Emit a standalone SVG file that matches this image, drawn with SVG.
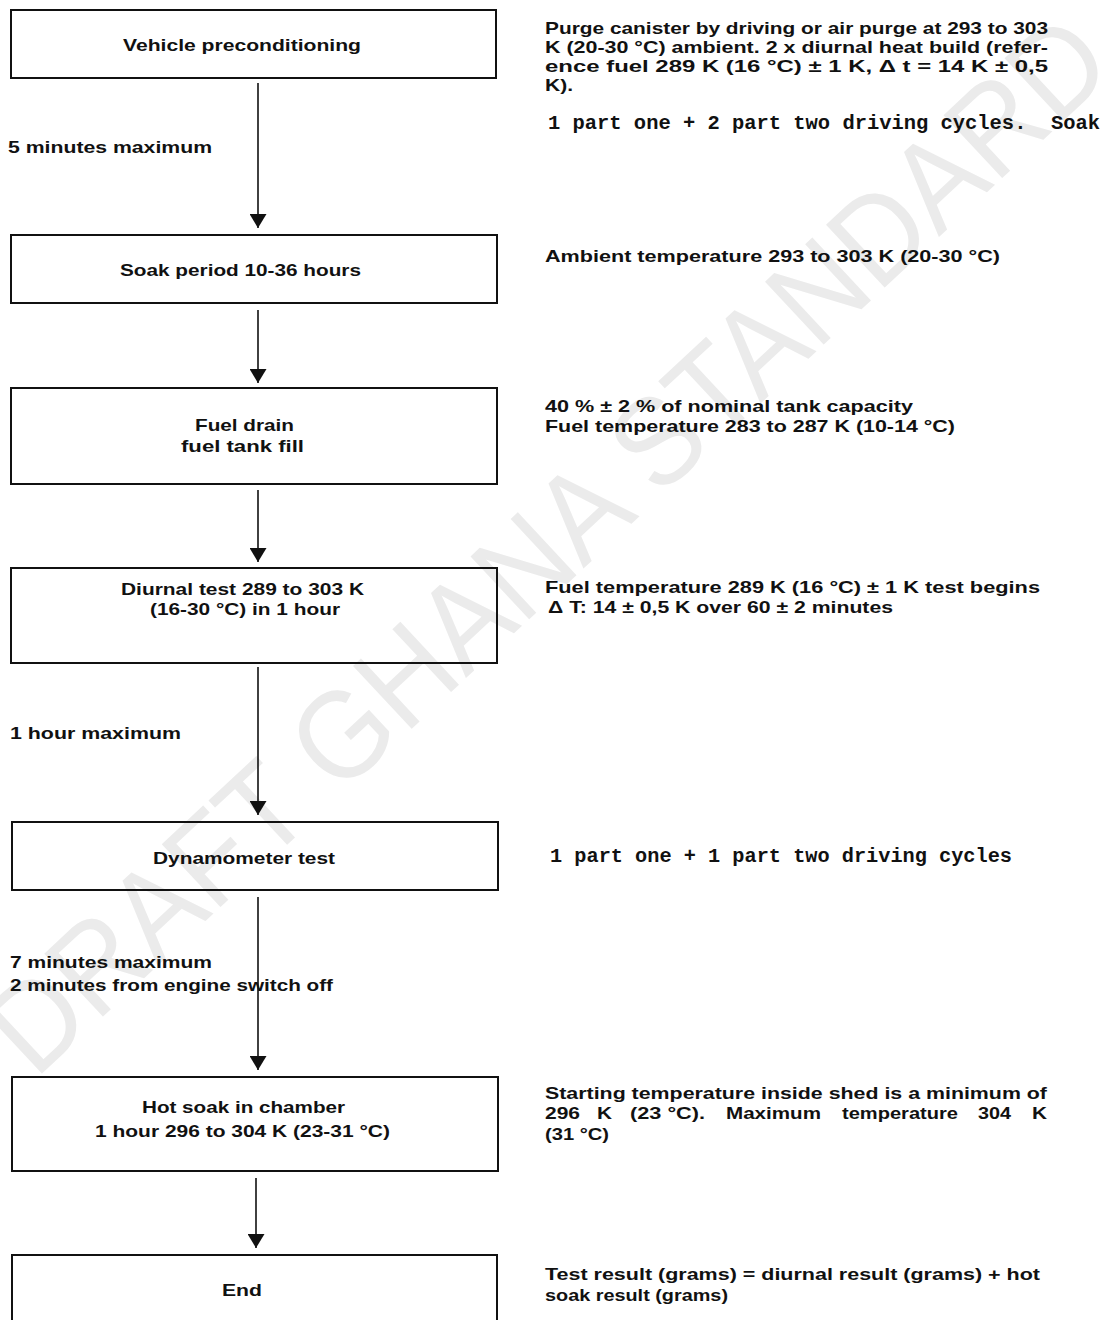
<svg xmlns="http://www.w3.org/2000/svg" width="1107" height="1320" viewBox="0 0 1107 1320">
<style>
.box{fill:none;stroke:#111;stroke-width:2}
.t{font-family:"Liberation Sans","Arial",sans-serif;font-weight:bold;font-size:16.5px;fill:#111}
.m{font-family:"Liberation Mono","DejaVu Sans Mono",monospace;font-weight:bold;font-size:20px;fill:#111}
.conn{stroke:#111;stroke-width:1.6;fill:none;marker-end:url(#ah)}
.wm{font-family:"Liberation Sans",sans-serif;font-size:125px;fill:#ebebeb}
</style>
<defs>
<marker id="ah" markerUnits="userSpaceOnUse" viewBox="0 -8.5 14 17" refX="14" refY="0" markerWidth="14" markerHeight="17" orient="auto">
<path d="M0,-8.5 L14,0 L0,8.5 Z" fill="#111"/>
</marker>
</defs>
<rect width="1107" height="1320" fill="#fff"/>
<text class="wm" transform="translate(35,1080) rotate(-43)" textLength="1480" lengthAdjust="spacingAndGlyphs">DRAFT GHANA STANDARD</text>

<g id="connectors">
<line class="conn" x1="258" y1="83" x2="258" y2="228"/>
<line class="conn" x1="258" y1="310" x2="258" y2="383"/>
<line class="conn" x1="258" y1="490" x2="258" y2="562"/>
<line class="conn" x1="258" y1="667" x2="258" y2="815"/>
<line class="conn" x1="258" y1="897" x2="258" y2="1070"/>
<line class="conn" x1="256" y1="1178" x2="256" y2="1248"/>
<text class="t" x="8" y="153" textLength="204" lengthAdjust="spacingAndGlyphs">5 minutes maximum</text>
<text class="t" x="10" y="739" textLength="171" lengthAdjust="spacingAndGlyphs">1 hour maximum</text>
<text class="t" x="10" y="968" textLength="202" lengthAdjust="spacingAndGlyphs">7 minutes maximum</text>
<text class="t" x="10" y="991" textLength="323" lengthAdjust="spacingAndGlyphs">2 minutes from engine switch off</text>
</g>

<g id="n1">
<rect class="box" x="11" y="10" width="485" height="68"/>
<text class="t" x="123" y="51" textLength="238" lengthAdjust="spacingAndGlyphs">Vehicle preconditioning</text>
</g>
<g id="n2">
<rect class="box" x="11" y="235" width="486" height="68"/>
<text class="t" x="120" y="276" textLength="241" lengthAdjust="spacingAndGlyphs">Soak period 10-36 hours</text>
</g>
<g id="n3">
<rect class="box" x="11" y="388" width="486" height="96"/>
<text class="t" x="195" y="431" textLength="99" lengthAdjust="spacingAndGlyphs">Fuel drain</text>
<text class="t" x="181" y="452" textLength="123" lengthAdjust="spacingAndGlyphs">fuel tank fill</text>
</g>
<g id="n4">
<rect class="box" x="11" y="568" width="486" height="95"/>
<text class="t" x="121" y="595" textLength="243" lengthAdjust="spacingAndGlyphs">Diurnal test 289 to 303 K</text>
<text class="t" x="150" y="615" textLength="190" lengthAdjust="spacingAndGlyphs">(16-30 °C) in 1 hour</text>
</g>
<g id="n5">
<rect class="box" x="12" y="822" width="486" height="68"/>
<text class="t" x="153" y="864" textLength="182" lengthAdjust="spacingAndGlyphs">Dynamometer test</text>
</g>
<g id="n6">
<rect class="box" x="12" y="1077" width="486" height="94"/>
<text class="t" x="142" y="1113" textLength="203" lengthAdjust="spacingAndGlyphs">Hot soak in chamber</text>
<text class="t" x="95" y="1137" textLength="295" lengthAdjust="spacingAndGlyphs">1 hour 296 to 304 K (23-31 °C)</text>
</g>
<g id="n7">
<rect class="box" x="12" y="1255" width="485" height="80"/>
<text class="t" x="222" y="1296" textLength="40" lengthAdjust="spacingAndGlyphs">End</text>
</g>

<g id="note1">
<text class="t" x="545" y="34" textLength="503" lengthAdjust="spacingAndGlyphs">Purge canister by driving or air purge at 293 to 303</text>
<text class="t" x="545" y="53" textLength="503" lengthAdjust="spacingAndGlyphs">K (20-30 °C) ambient. 2 x diurnal heat build (refer-</text>
<text class="t" x="545" y="72" textLength="503" lengthAdjust="spacingAndGlyphs">ence fuel 289 K (16 °C) ± 1 K, Δ t = 14 K ± 0,5</text>
<text class="t" x="545" y="91" textLength="28" lengthAdjust="spacingAndGlyphs">K).</text>
<text class="m" x="548" y="129" textLength="552" lengthAdjust="spacingAndGlyphs" xml:space="preserve">1 part one + 2 part two driving cycles.  Soak</text>
</g>
<g id="note2">
<text class="t" x="545" y="262" textLength="455" lengthAdjust="spacingAndGlyphs">Ambient temperature 293 to 303 K (20-30 °C)</text>
</g>
<g id="note3">
<text class="t" x="545" y="412" textLength="368" lengthAdjust="spacingAndGlyphs">40 % ± 2 % of nominal tank capacity</text>
<text class="t" x="545" y="432" textLength="410" lengthAdjust="spacingAndGlyphs">Fuel temperature 283 to 287 K (10-14 °C)</text>
</g>
<g id="note4">
<text class="t" x="545" y="593" textLength="495" lengthAdjust="spacingAndGlyphs">Fuel temperature 289 K (16 °C) ± 1 K test begins</text>
<text class="t" x="548" y="613" textLength="345" lengthAdjust="spacingAndGlyphs">Δ T: 14 ± 0,5 K over 60 ± 2 minutes</text>
</g>
<g id="note5">
<text class="m" x="550" y="862" textLength="462" lengthAdjust="spacingAndGlyphs">1 part one + 1 part two driving cycles</text>
</g>
<g id="note6">
<text class="t" x="545" y="1099" textLength="502" lengthAdjust="spacingAndGlyphs">Starting temperature inside shed is a minimum of</text>
<text class="t" x="545" y="1119" textLength="35" lengthAdjust="spacingAndGlyphs">296</text>
<text class="t" x="597" y="1119" textLength="15" lengthAdjust="spacingAndGlyphs">K</text>
<text class="t" x="630" y="1119" textLength="75" lengthAdjust="spacingAndGlyphs">(23 °C).</text>
<text class="t" x="726" y="1119" textLength="95" lengthAdjust="spacingAndGlyphs">Maximum</text>
<text class="t" x="842" y="1119" textLength="116" lengthAdjust="spacingAndGlyphs">temperature</text>
<text class="t" x="978" y="1119" textLength="33" lengthAdjust="spacingAndGlyphs">304</text>
<text class="t" x="1032" y="1119" textLength="15" lengthAdjust="spacingAndGlyphs">K</text>
<text class="t" x="545" y="1140" textLength="64" lengthAdjust="spacingAndGlyphs">(31 °C)</text>
</g>
<g id="note7">
<text class="t" x="545" y="1280" textLength="495" lengthAdjust="spacingAndGlyphs">Test result (grams) = diurnal result (grams) + hot</text>
<text class="t" x="545" y="1301" textLength="183" lengthAdjust="spacingAndGlyphs">soak result (grams)</text>
</g>
</svg>
